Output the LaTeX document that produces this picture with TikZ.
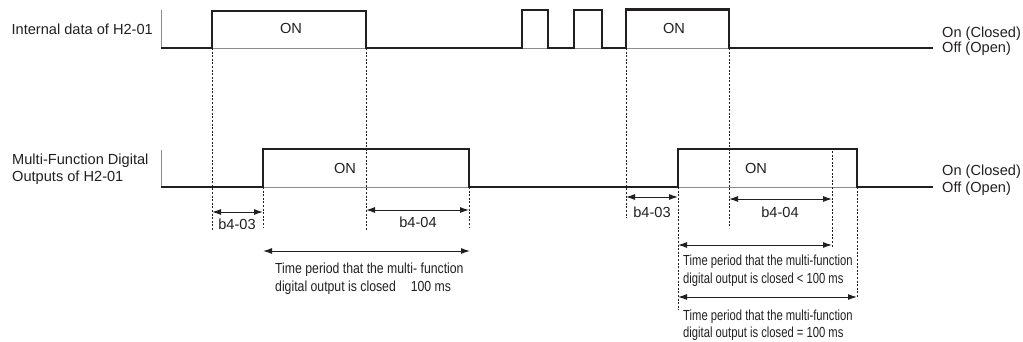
\documentclass[tikz,border=0pt]{standalone}
\usepackage{fontspec}
\setmainfont{Liberation Sans}
\newfontfamily\narrowA[FakeStretch=0.84]{Liberation Sans}
\newfontfamily\narrowB[FakeStretch=0.77]{Liberation Sans}
\usetikzlibrary{arrows.meta}
\definecolor{sigc}{HTML}{231F20}
\definecolor{grayc}{HTML}{8C8C8C}
\begin{document}
\begin{tikzpicture}[x=1pt,y=-1pt,
  sig/.style={line width=2.2pt, color=sigc, line join=miter},
  basegray/.style={line width=1pt, color=grayc},
  guide/.style={line width=0.7pt, color=sigc, dash pattern=on 2pt off 1.6pt},
  dim/.style={line width=1pt, color=sigc, {Latex[length=9pt,width=6pt]}-{Latex[length=9pt,width=6pt]}},
  lbl/.style={font=\fontsize{14.6}{17.5}\selectfont, inner sep=0pt, text=sigc},
  nlblA/.style={font=\fontsize{14.6}{17.5}\narrowA, inner sep=0pt, text=sigc, anchor=base west},
  nlblB/.style={font=\fontsize{14.6}{17.5}\narrowB, inner sep=0pt, text=sigc, anchor=base west}]
\useasboundingbox (0,0) rectangle (1023,341);

% ---------- top signal: internal data ----------
\draw[basegray] (161,10) -- (161,48) -- (933,48);
\draw[sig] (161,48) -- (212,48) -- (212,11) -- (366,11) -- (366,48)
  -- (522,48) -- (522,10) -- (548,10) -- (548,48)
  -- (574,48) -- (574,10) -- (602,10) -- (602,48)
  -- (626,48) -- (626,9.5) -- (729,9.5) -- (729,48) -- (933,48);

% ---------- bottom signal: digital outputs ----------
\draw[basegray] (161,150) -- (161,187) -- (933,187);
\draw[sig] (161,187) -- (263,187) -- (263,149) -- (469,149) -- (469,187)
  -- (678,187) -- (678,149) -- (857,149) -- (857,187) -- (933,187);

% ---------- guide lines ----------
\draw[guide] (212,48) -- (212,230);
\draw[guide] (263,187) -- (263,227);
\draw[guide] (366,48) -- (366,230);
\draw[guide] (469,187) -- (469,227);
\draw[guide] (626,48) -- (626,218);
\draw[guide] (678,187) -- (678,310);
\draw[guide] (729,48) -- (729,228);
\draw[guide] (832,151) -- (832,247);
\draw[guide] (857,187) -- (857,298);

% ---------- dimension end points ----------
\coordinate (d1a) at (212,212); \coordinate (d1b) at (263,212);
\coordinate (d2a) at (366,210); \coordinate (d2b) at (469,210);
\coordinate (d3a) at (263,251); \coordinate (d3b) at (470,251);
\coordinate (d4a) at (626,197); \coordinate (d4b) at (678,197);
\coordinate (d5a) at (729,199); \coordinate (d5b) at (832,199);
\coordinate (d6a) at (678,245); \coordinate (d6b) at (832,245);
\coordinate (d7a) at (678,297); \coordinate (d7b) at (857,297);

\draw[dim] (d1a) -- (d1b);
\draw[dim] (d2a) -- (d2b);
\draw[dim] (d3a) -- (d3b);
\draw[dim] (d4a) -- (d4b);
\draw[dim] (d5a) -- (d5b);
\draw[dim] (d6a) -- (d6b);
\draw[dim] (d7a) -- (d7b);

% ---------- labels ----------
\node[lbl, anchor=base east] (lin) at (153,34) {Internal data of H2-01};
\node[lbl, anchor=base west] (lout1) at (12,164) {Multi-Function Digital};
\node[lbl, anchor=base west] (lout2) at (12,181) {Outputs of H2-01};

\node[lbl, anchor=base] (on1) at (291,33) {ON};
\node[lbl, anchor=base] (on2) at (674,33) {ON};
\node[lbl, anchor=base] (on3) at (345,173) {ON};
\node[lbl, anchor=base] (on4) at (756,173) {ON};

\node[lbl, anchor=base west] (tc1) at (942,37) {On (Closed)};
\node[lbl, anchor=base west] (to1) at (942,52) {Off (Open)};
\node[lbl, anchor=base west] (tc2) at (942,175) {On (Closed)};
\node[lbl, anchor=base west] (to2) at (942,192) {Off (Open)};

\node[lbl, anchor=base] (b1) at (237,229) {b4-03};
\node[lbl, anchor=base] (b2) at (418,227) {b4-04};
\node[lbl, anchor=base] (b3) at (652,217) {b4-03};
\node[lbl, anchor=base] (b4) at (780,217) {b4-04};

\node[nlblA] (p1a) at (275,273) {Time period that the multi- function};
\node[nlblA] (p1b) at (275,291) {digital output is closed\hspace{15pt}100 ms};
\node[nlblB] (p2a) at (683,265) {Time period that the multi-function};
\node[nlblB] (p2b) at (683,283) {digital output is closed < 100 ms};
\node[nlblB] (p3a) at (683,320) {Time period that the multi-function};
\node[nlblB] (p3b) at (683,337) {digital output is closed = 100 ms};
\end{tikzpicture}
\end{document}
